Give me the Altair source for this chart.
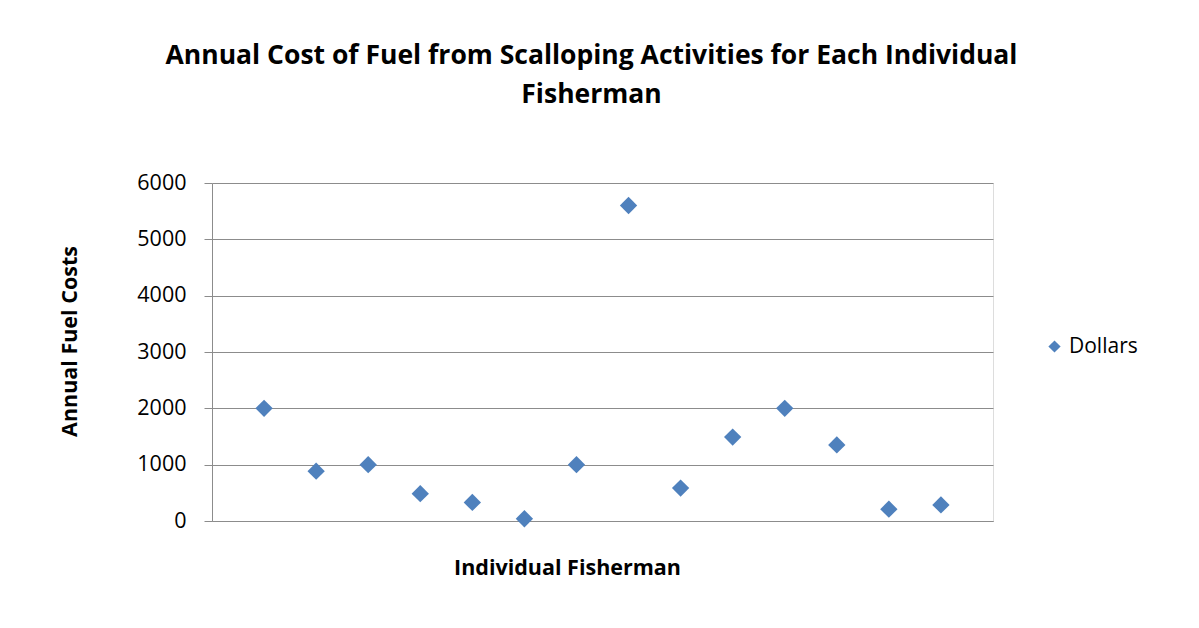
import altair as alt
import pandas as pd

fisherman = list(range(1, 15))
dollars = [2000, 885, 1000, 485, 330, 40, 1000, 5600, 585, 1490, 2000, 1350, 210, 285]
series = ["Dollars"] * len(fisherman)
y_ticks = [0, 1000, 2000, 3000, 4000, 5000, 6000]

df = pd.DataFrame({"Fisherman": fisherman, "Cost": dollars, "Series": series})

FONT = "Open Sans"
GRID = "#8c8c8c"

chart = alt.Chart(df).mark_point(shape="diamond", filled=True, opacity=1, size=300).encode(
    x=alt.X("Fisherman:Q",
            scale=alt.Scale(domain=[0, 15], nice=False, zero=False),
            axis=alt.Axis(labels=False, ticks=False, grid=False, domain=True,
                          domainColor=GRID, title="Individual Fisherman",
                          titleFont=FONT, titleFontSize=21.5, titleFontWeight="bold",
                          titleColor="#000000", titleX=355, titleY=47,
                          titleAlign="center", titleBaseline="middle")),
    y=alt.Y("Cost:Q",
            scale=alt.Scale(domain=[0, 6000], nice=False),
            axis=alt.Axis(values=y_ticks, format="d", grid=True, gridColor=GRID, domainColor=GRID,
                          tickColor=GRID, tickSize=8, labelFont=FONT, labelFontSize=21.5,
                          labelColor="#000000", labelPadding=18,
                          title="Annual Fuel Costs", titleFont=FONT, titleFontSize=21.5,
                          titleFontWeight="bold", titleColor="#000000",
                          titleX=-142, titleY=158, titleAngle=270,
                          titleAlign="center", titleBaseline="middle")),
    color=alt.Color("Series:N", scale=alt.Scale(range=["#4F81BD"]),
                    legend=alt.Legend(title=None, orient="none", legendX=832, legendY=153,
                                      symbolType="diamond", symbolSize=150,
                                      labelFont=FONT, labelFontSize=21, labelColor="#000000")),
).properties(
    width=781, height=338,
    title=alt.Title(["Annual Cost of Fuel from Scalloping Activities for Each Individual", "Fisherman"],
                    font=FONT, fontSize=26.5, fontWeight="bold", color="#000000",
                    anchor="middle", lineHeight=39, offset=64, dx=-11),
    autosize=alt.AutoSizeParams(type="none"),
    padding={"left": 204, "top": 175, "right": 198, "bottom": 99},
).configure_view(stroke=None).configure(background="white")

chart.save("out.html", embed_options={"renderer": "svg", "actions": False})
